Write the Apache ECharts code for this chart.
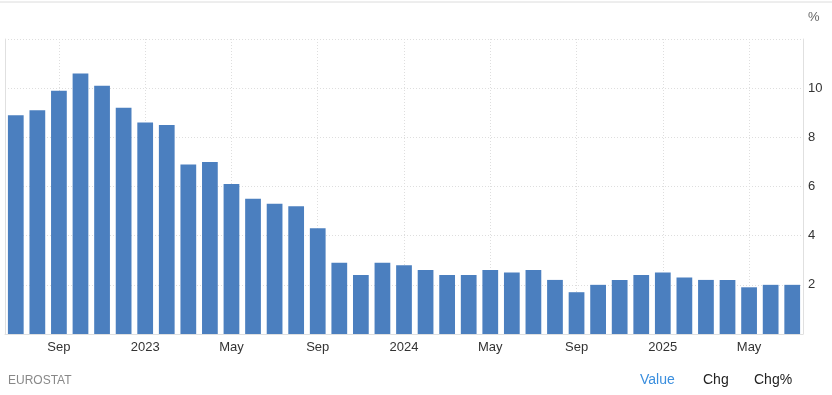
<!DOCTYPE html>
<html><head><meta charset="utf-8">
<script src="https://cdn.jsdelivr.net/npm/echarts@6/dist/echarts.min.js"></script>
<style>html,body{margin:0;padding:0;background:#fff}#c{width:832px;height:395px}</style>
</head><body><div id="c"></div>
<script>
const categories = [
  'Jul 2022','Aug 2022','Sep 2022','Oct 2022','Nov 2022','Dec 2022',
  'Jan 2023','Feb 2023','Mar 2023','Apr 2023','May 2023','Jun 2023','Jul 2023','Aug 2023','Sep 2023','Oct 2023','Nov 2023','Dec 2023',
  'Jan 2024','Feb 2024','Mar 2024','Apr 2024','May 2024','Jun 2024','Jul 2024','Aug 2024','Sep 2024','Oct 2024','Nov 2024','Dec 2024',
  'Jan 2025','Feb 2025','Mar 2025','Apr 2025','May 2025','Jun 2025','Jul 2025'
];
const tickLabels = ['Jul','Aug','Sep','Oct','Nov','Dec','2023','Feb','Mar','Apr','May','Jun','Jul','Aug','Sep','Oct','Nov','Dec',
  '2024','Feb','Mar','Apr','May','Jun','Jul','Aug','Sep','Oct','Nov','Dec','2025','Feb','Mar','Apr','May','Jun','Jul'];
const values = [8.9,9.1,9.9,10.6,10.1,9.2,8.6,8.5,6.9,7.0,6.1,5.5,5.3,5.2,4.3,2.9,2.4,2.9,2.8,2.6,2.4,2.4,2.6,2.5,2.6,2.2,1.7,2.0,2.2,2.4,2.5,2.3,2.2,2.2,1.9,2.0,2.0];
const yTicks = [2,4,6,8,10];

const chart = echarts.init(document.getElementById('c'));
const showIdx = (i) => (i - 2) % 4 === 0;
chart.setOption({
  animation: false,
  grid: {left: 5, right: 29, top: 39, bottom: 61},
  xAxis: {
    type: 'category', data: categories,
    axisLine: {show: true, lineStyle: {color: '#e0e0e0'}},
    axisTick: {show: false},
    axisLabel: {
      interval: (i) => showIdx(i),
      formatter: (v, i) => tickLabels[i],
      color: '#333', fontSize: 13, fontFamily: 'Arial, Liberation Sans, sans-serif', margin: 7
    },
    splitLine: {show: true, alignWithLabel: true, interval: (i) => showIdx(i), lineStyle: {color: '#dedede', type: [1, 2]}}
  },
  yAxis: [{
    type: 'value', position: 'right', min: 0, max: 12, interval: 2,
    axisLine: {show: true, lineStyle: {color: '#e0e0e0'}},
    axisTick: {show: false},
    axisLabel: {
      formatter: (v) => yTicks.includes(v) ? String(v) : '',
      color: '#333', fontSize: 13, fontFamily: 'Arial, Liberation Sans, sans-serif', margin: 5
    },
    splitLine: {show: true, lineStyle: {color: '#dedede', type: [1, 2]}}
  }, {
    type: 'value', position: 'left', min: 0, max: 12, interval: 2,
    axisLine: {show: true, lineStyle: {color: '#e0e0e0'}},
    axisTick: {show: false}, axisLabel: {show: false}, splitLine: {show: false}
  }],
  series: [{
    type: 'bar', data: values, yAxisIndex: 0,
    barCategoryGap: '27%',
    itemStyle: {color: '#4b7fbf'}
  }],
  graphic: [
    {type: 'line', shape: {x1: 0, y1: 2, x2: 832, y2: 2}, style: {stroke: '#dcdcdc', lineWidth: 1}},
    {type: 'text', left: 808, top: 11, style: {text: '%', fill: '#666', fontSize: 13, fontFamily: 'Arial, Liberation Sans, sans-serif'}},
    {type: 'text', left: 8, top: 375, style: {text: 'EUROSTAT', fill: '#888', fontSize: 12, fontFamily: 'Arial, Liberation Sans, sans-serif'}},
    {type: 'text', left: 640, top: 373, style: {text: 'Value', fill: '#3a8ede', fontSize: 14, fontFamily: 'Arial, Liberation Sans, sans-serif'}},
    {type: 'text', left: 703, top: 373, style: {text: 'Chg', fill: '#222', fontSize: 14, fontFamily: 'Arial, Liberation Sans, sans-serif'}},
    {type: 'text', left: 754, top: 373, style: {text: 'Chg%', fill: '#222', fontSize: 14, fontFamily: 'Arial, Liberation Sans, sans-serif'}}
  ]
});
</script></body></html>
